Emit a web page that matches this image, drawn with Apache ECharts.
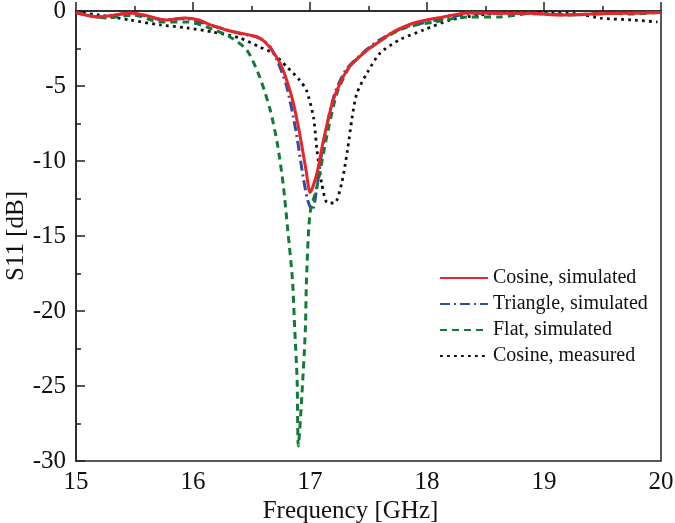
<!DOCTYPE html>
<html>
<head>
<meta charset="utf-8">
<script src="https://cdn.jsdelivr.net/npm/echarts@6/dist/echarts.min.js"></script>
<style>html,body{margin:0;padding:0;background:#fff}#c{width:675px;height:523px}</style>
</head>
<body>
<div id="c"></div>
<script>
const seriesNames = ['Cosine, simulated', 'Triangle, simulated', 'Flat, simulated', 'Cosine, measured'];

const cosSimX = [15.0,15.1,15.2,15.3,15.46,15.6,15.76,15.93,16.05,16.15,16.3,16.4,16.55,16.62,16.7,16.77,16.85,16.91,16.97,17.0,17.06,17.11,17.2,17.32,17.49,17.6,17.71,17.91,18.14,18.34,18.6,18.9,19.14,19.4,19.7,20.0];
const cosSimY = [-0.1,-0.3,-0.4,-0.3,-0.13,-0.3,-0.6,-0.47,-0.6,-0.93,-1.3,-1.47,-1.73,-2.1,-2.9,-3.93,-5.9,-8.1,-10.8,-12.1,-10.8,-8.8,-5.9,-3.9,-2.6,-2.0,-1.4,-0.75,-0.4,-0.13,-0.15,-0.15,-0.27,-0.2,-0.15,-0.1];

const triSimX = [15.0,15.2,15.46,15.76,15.93,16.15,16.4,16.55,16.65,16.72,16.8,16.88,16.94,16.98,17.02,17.06,17.11,17.2,17.3,17.45,17.6,17.8,18.0,18.2,18.4,18.7,19.0,19.3,19.6,20.0];
const triSimY = [-0.1,-0.4,-0.15,-0.6,-0.5,-0.95,-1.5,-1.75,-2.3,-3.3,-5.0,-8.0,-11.0,-12.6,-13.3,-11.7,-9.0,-5.8,-4.0,-2.8,-1.9,-1.1,-0.75,-0.4,-0.15,-0.15,-0.2,-0.25,-0.15,-0.1];

const flatSimX = [15.0,15.26,15.49,15.72,15.95,16.12,16.32,16.46,16.57,16.66,16.72,16.77,16.81,16.85,16.87,16.89,16.90,16.93,16.96,16.97,17.0,17.06,17.15,17.23,17.34,17.49,17.66,17.83,18.05,18.34,18.62,18.9,19.2,19.5,19.75,19.97];
const flatSimY = [-0.1,-0.47,-0.27,-0.73,-0.73,-1.07,-1.75,-2.6,-4.4,-6.6,-8.8,-11.5,-14.6,-17.9,-21.3,-24.6,-29.0,-25.7,-21.3,-17.9,-13.5,-11.7,-8.1,-5.5,-3.7,-2.6,-1.7,-1.07,-0.75,-0.4,-0.4,-0.15,-0.27,-0.15,-0.2,-0.1];

const cosMeasX = [15.0,15.2,15.46,15.72,15.95,16.17,16.4,16.57,16.68,16.8,16.91,16.97,17.03,17.06,17.10,17.15,17.21,17.27,17.32,17.36,17.40,17.49,17.6,17.77,17.97,18.2,18.45,18.7,19.0,19.3,19.48,19.76,19.97];
const cosMeasY = [-0.07,-0.27,-0.6,-0.93,-1.13,-1.4,-1.8,-2.4,-2.8,-3.7,-4.6,-5.3,-7.1,-9.3,-11.5,-12.8,-12.8,-11.5,-9.3,-7.1,-5.5,-4.1,-2.8,-1.9,-1.27,-0.6,-0.27,-0.1,-0.1,-0.2,-0.47,-0.6,-0.73];

const xTicks = [15,16,17,18,19,20];
const yTicks = [0,-5,-10,-15,-20,-25,-30];

const pairs = (xs, ys) => xs.map((x, i) => [x, ys[i]]);
const font = 'Liberation Serif, Times New Roman, serif';

const chart = echarts.init(document.getElementById('c'), null, {renderer: 'canvas'});
chart.setOption({
  animation: false,
  backgroundColor: '#fff',
  textStyle: {fontFamily: font},
  grid: {left: 76, right: 14, top: 11, bottom: 62, show: true, borderColor: '#222', borderWidth: 1.5,
         backgroundColor: 'transparent', outerBoundsMode: 'none', containLabel: false},
  legend: {
    left: 434, top: 263, orient: 'vertical', itemGap: 6, itemWidth: 48, itemHeight: 21,
    itemStyle: {opacity: 0},
    textStyle: {fontFamily: font, fontSize: 20, color: '#111'},
    data: seriesNames
  },
  xAxis: {
    type: 'value', min: xTicks[0], max: xTicks[xTicks.length - 1], interval: 1,
    name: 'Frequency [GHz]', nameLocation: 'middle', nameGap: 38, nameMoveOverlap: false,
    nameTextStyle: {fontFamily: font, fontSize: 25, color: '#111', padding: [0, 36, 0, 0]},
    axisLine: {show: true, lineStyle: {color: '#222', width: 1.5}},
    axisTick: {show: true, inside: true, length: 9, lineStyle: {color: '#222', width: 1.5}},
    minorTick: {show: true, splitNumber: 2, length: 5, lineStyle: {color: '#222', width: 1.5}},
    axisLabel: {fontFamily: font, fontSize: 25, color: '#111', margin: 9},
    splitLine: {show: false}
  },
  yAxis: {
    type: 'value', min: yTicks[yTicks.length - 1], max: yTicks[0], interval: 5,
    name: 'S11 [dB]', nameLocation: 'middle', nameGap: 47, nameRotate: 90, nameMoveOverlap: false,
    nameTextStyle: {fontFamily: font, fontSize: 25, color: '#111'},
    axisLine: {show: true, lineStyle: {color: '#222', width: 1.5}},
    axisTick: {show: true, inside: true, length: 9, lineStyle: {color: '#222', width: 1.5}},
    minorTick: {show: true, splitNumber: 2, length: 5, lineStyle: {color: '#222', width: 1.5}},
    axisLabel: {fontFamily: font, fontSize: 25, color: '#111', margin: 10},
    splitLine: {show: false}
  },
  series: [
    {name: seriesNames[0], type: 'line', data: pairs(cosSimX, cosSimY), symbol: 'none', smooth: 0.25, z: 5,
     lineStyle: {color: '#e8252a', width: 3, type: 'solid'}, itemStyle: {color: '#e8252a'}},
    {name: seriesNames[1], type: 'line', data: pairs(triSimX, triSimY), symbol: 'none', smooth: 0.25, z: 3,
     lineStyle: {color: '#2d4f9e', width: 3, type: [10, 4, 2, 4]}, itemStyle: {color: '#2d4f9e'}},
    {name: seriesNames[2], type: 'line', data: pairs(flatSimX, flatSimY), symbol: 'none', smooth: 0.25, z: 4,
     lineStyle: {color: '#137a3a', width: 3, type: [7, 5]}, itemStyle: {color: '#137a3a'}},
    {name: seriesNames[3], type: 'line', data: pairs(cosMeasX, cosMeasY), symbol: 'none', smooth: 0.25, z: 2,
     lineStyle: {color: '#111', width: 2.8, type: [2.8, 4.2]}, itemStyle: {color: '#111'}}
  ]
});
</script>
</body>
</html>
